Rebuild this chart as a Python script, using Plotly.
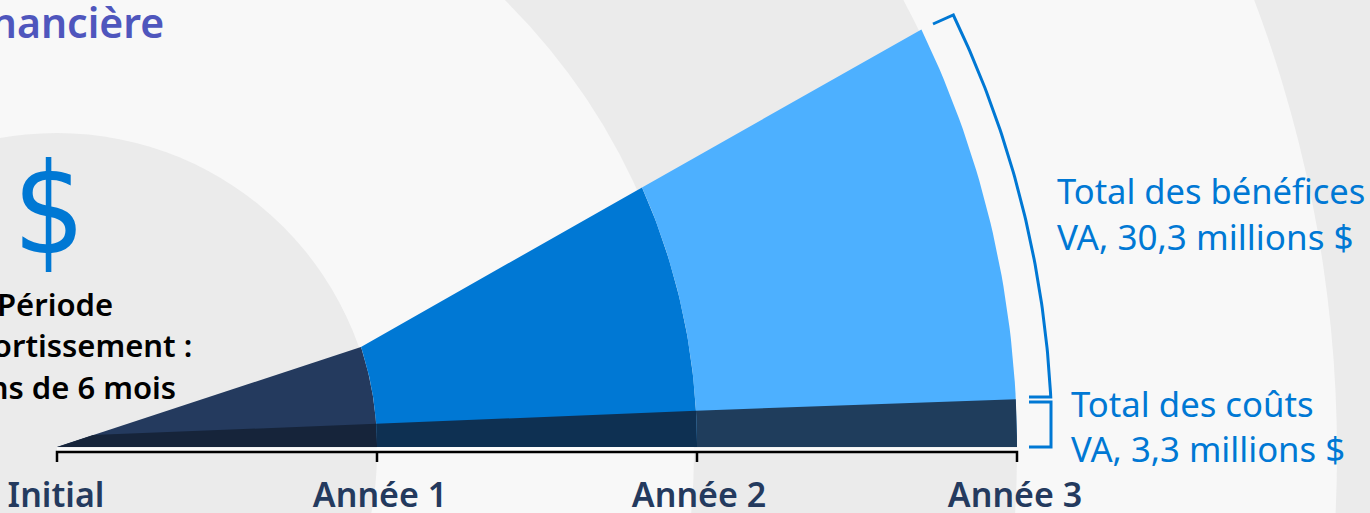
import math
import plotly.graph_objects as go

# ---- data ----
periods = [0, 1, 2, 3]
period_labels = ["Initial", "Année 1", "Année 2", "Année 3"]
label_nudge_px = [-1, 3, 2, -2]
benefit_cum = [0, 6.9, 17.9, 28.8]      # million $, height at each year arc
cost_cum = [0.72, 1.6, 2.5, 3.3]        # million $, height at each year arc
benefit_colors = ["#243a5e", "#0078d4", "#4db0ff"]
cost_colors = ["#16243a", "#0e3052", "#1f3d5c"]
ring_radii_px = [1280, 960, 637, 320]
ring_colors = ["#f8f8f8", "#ebebeb", "#f8f8f8", "#ebebeb"]
benefit_label = ["Total des bénéfices", "VA, 30,3 millions $"]
cost_label = ["Total des coûts", "VA, 3,3 millions $"]
payback_label = ["Période", "d'amortissement :", "moins de 6 mois"]
title_tail = "financière"

W, H = 1370, 513
CX, CY = 57, 447          # origin pixel
RING_DROP = 6             # the rings sit this many pixels below the origin
PXY = 320.0               # pixels per year
PXM = 14.5                # pixels per million $
RATIO = PXY / PXM         # millions per year of radius


def arc(r, v0, v1, n=40):
    """points on the circle of radius r (years) between heights v0 and v1 ($M)"""
    xs, ys = [], []
    a0 = math.asin(min(1, v0 / (r * RATIO)))
    a1 = math.asin(min(1, v1 / (r * RATIO)))
    for i in range(n + 1):
        a = a0 + (a1 - a0) * i / n
        xs.append(r * math.cos(a))
        ys.append(r * RATIO * math.sin(a))
    return xs, ys


def band(r0, v0, r1, v1, color):
    """annular sector from the axis up to the straight top edge"""
    ox, oy = arc(r1, 0, v1)
    if r0 == 0:
        xs = [0] + ox[::-1] + [0]
        ys = [0] + oy[::-1] + [0]
    else:
        ix, iy = arc(r0, 0, v0)
        xs = ix + ox[::-1] + [ix[0]]
        ys = iy + oy[::-1] + [iy[0]]
    return go.Scatter(x=xs, y=ys, mode="lines", fill="toself", fillcolor=color,
                      line=dict(width=0), hoverinfo="skip", showlegend=False)


fig = go.Figure()

for i in range(3):
    fig.add_trace(band(periods[i], benefit_cum[i], periods[i + 1], benefit_cum[i + 1], benefit_colors[i]))

# first cost slice is clipped by the first benefit ray
ray = benefit_cum[1] / arc(1, 0, benefit_cum[1])[0][-1]
slope0 = (cost_cum[1] - cost_cum[0]) / arc(1, 0, cost_cum[1])[0][-1]
xk = cost_cum[0] / (ray - slope0)
yk = ray * xk
ox, oy = arc(1, 0, cost_cum[1])
fig.add_trace(go.Scatter(x=[0, xk] + ox[::-1] + [0], y=[0, yk] + oy[::-1] + [0], mode="lines",
                         fill="toself", fillcolor=cost_colors[0], line=dict(width=0),
                         hoverinfo="skip", showlegend=False))
for i in range(1, 3):
    fig.add_trace(band(periods[i], cost_cum[i], periods[i + 1], cost_cum[i + 1], cost_colors[i]))

# pale strip between the wedges and the time axis
fig.add_trace(go.Scatter(x=[periods[0], periods[-1]], y=[-2.5 / PXM] * 2, mode="lines",
                         line=dict(color="rgba(255,255,255,0.75)", width=4),
                         hoverinfo="skip", showlegend=False))

# time axis bracket
axis_y = -5 / PXM
tick_y = -15 / PXM
ax_x, ax_y = [periods[0]], [tick_y]
for p in periods:
    ax_x += [p, p, p]
    ax_y += [axis_y, tick_y, axis_y]
fig.add_trace(go.Scatter(x=ax_x, y=ax_y, mode="lines", line=dict(color="#000000", width=2.5),
                         hoverinfo="skip", showlegend=False))
fig.add_trace(go.Scatter(x=[p + n / PXY for p, n in zip(periods, label_nudge_px)],
                         y=[-51 / PXM] * 4, mode="text", text=period_labels,
                         textposition="middle center",
                         textfont=dict(family="Noto Sans", size=34, color="#243a5e", weight=600),
                         cliponaxis=False, hoverinfo="skip", showlegend=False))

# benefit bracket
bx, by = arc(995 / PXY, 50 / PXM, 432 / PXM, 80)
bx = [972 / PXY] + bx + [876 / PXY]
by = [50 / PXM] + by + [423 / PXM]
fig.add_trace(go.Scatter(x=bx, y=by, mode="lines", line=dict(color="#0078d4", width=3),
                         hoverinfo="skip", showlegend=False))
# cost bracket
fig.add_trace(go.Scatter(x=[972 / PXY, 994 / PXY, 994 / PXY, 972 / PXY],
                         y=[45 / PXM, 45 / PXM, 0, 0], mode="lines",
                         line=dict(color="#0078d4", width=3), hoverinfo="skip", showlegend=False))

# background rings
drop = RING_DROP / PXM
shapes = [dict(type="circle", xref="x", yref="y", layer="below", line=dict(width=0),
               fillcolor=c, x0=-r / PXY, x1=r / PXY, y0=-r / PXM - drop, y1=r / PXM - drop)
          for r, c in zip(ring_radii_px, ring_colors)]


def note(text, px, py, size, color, xanchor="center", weight=400, family="Noto Sans"):
    return dict(text=text, x=px / W, y=1 - py / H, xref="paper", yref="paper", xanchor=xanchor,
                yanchor="middle", showarrow=False,
                font=dict(family=family, size=size, color=color, weight=weight))


annotations = [
    note(title_tail, 166, 22, 41, "#4f56bd", "right", 600),
    note("$", 49, 209, 126, "#0078d4", family="DejaVu Sans Condensed, DejaVu Sans"),
    note(payback_label[0], 55, 304, 31, "#000000", weight=600),
    note(payback_label[1], 55, 345, 31, "#000000", weight=600),
    note(payback_label[2], 53, 387, 31, "#000000", weight=600),
    note(benefit_label[0], 1055, 190, 34.5, "#0078d4", "left"),
    note(benefit_label[1], 1055, 236, 35, "#0078d4", "left"),
    note(cost_label[0], 1069, 403, 34.7, "#0078d4", "left"),
    note(cost_label[1], 1069, 448, 34.7, "#0078d4", "left"),
]

fig.update_layout(
    width=W, height=H, margin=dict(l=0, r=0, t=0, b=0),
    paper_bgcolor="#ebebeb", plot_bgcolor="#ebebeb",
    shapes=shapes, annotations=annotations, showlegend=False,
    xaxis=dict(range=[-CX / PXY, (W - CX) / PXY], visible=False, fixedrange=True),
    yaxis=dict(range=[-(H - CY) / PXM, CY / PXM], visible=False, fixedrange=True),
)
fig.write_html("out.html", config=dict(displayModeBar=False),
               post_script="document.body.style.margin='0';document.body.style.overflow='hidden';")
